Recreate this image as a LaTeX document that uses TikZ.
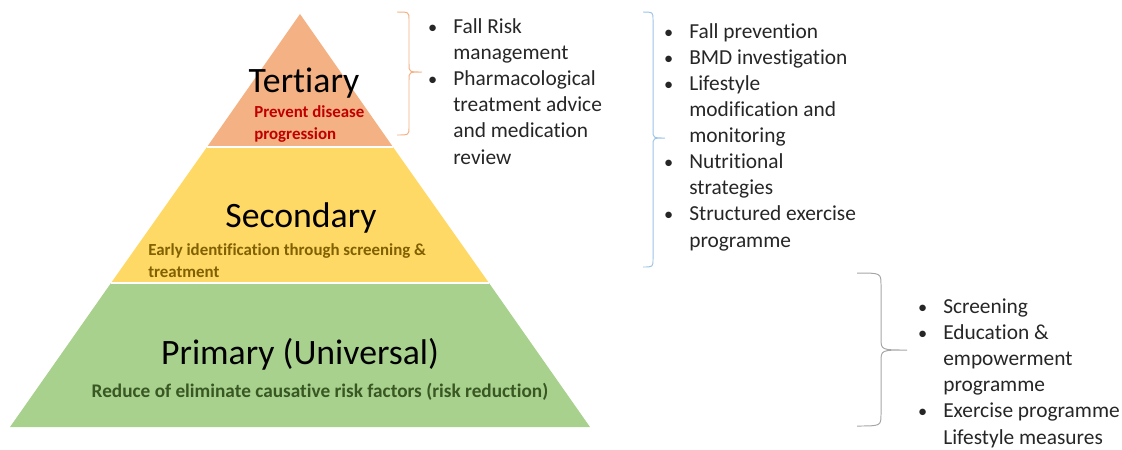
\documentclass[tikz,border=0pt]{standalone}
\usepackage{fontspec}
\setmainfont{Carlito}[Ligatures=NoCommon]
\usetikzlibrary{positioning}

\definecolor{tertfill}{HTML}{F4B183}
\definecolor{secfill}{HTML}{FFD966}
\definecolor{primfill}{HTML}{A9D18E}
\definecolor{tertred}{HTML}{C00000}
\definecolor{secbrown}{HTML}{806000}
\definecolor{primgreen}{HTML}{385723}
\definecolor{braceorange}{HTML}{F4B183}
\definecolor{braceblue}{HTML}{9DC3E6}
\definecolor{bracegray}{HTML}{A6A6A6}
\definecolor{listtext}{HTML}{262626}

% bullet and hanging indent for the lists
\newcommand{\bul}{\makebox[0.575cm][l]{\hspace{-1.5pt}\raisebox{0.3pt}{\fontsize{13}{13}\selectfont\textbullet}}}
\newcommand{\ind}{\hspace*{0.575cm}}

% curly bracket: colour, x hooks, x spine, x tip, y top, y tip, y bottom, hook
\newcommand{\curly}[8]{%
  \draw[#1, line width=0.7pt] (#2,#5) .. controls (#3,#5) .. (#3,#5+#8)
    -- (#3,#6-#8) .. controls (#3,#6) .. (#4,#6)
    .. controls (#3,#6) .. (#3,#6+#8)
    -- (#3,#7-#8) .. controls (#3,#7) .. (#2,#7);}

% anchors are on the baseline of the last line of each block
\tikzset{
  title/.style={font=\fontsize{25.4}{30}\selectfont, inner sep=0pt, anchor=base},
  tag/.style={font=\fontsize{12}{15}\selectfont\bfseries, align=left, inner sep=0pt},
  items/.style={font=\fontsize{15.2}{18.5}\selectfont, text=listtext, align=left, inner sep=0pt, anchor=base west},
}

\begin{document}
\begin{tikzpicture}[x=0.025cm, y=-0.025cm]
\useasboundingbox (0,0) rectangle (1122,449);

% pyramid corners
\coordinate (apex) at (300,14);
\coordinate (tl) at (207,147);
\coordinate (tr) at (393,147);
\coordinate (sl) at (111,283);
\coordinate (sr) at (489,283);
\coordinate (bl) at (10,427);
\coordinate (br) at (590,427);

\fill[primfill] (sl) -- (sr) -- (br) -- (bl) -- cycle;
\fill[secfill] (tl) -- (tr) -- (sr) -- (sl) -- cycle;
\fill[tertfill] (apex) -- (tr) -- (tl) -- cycle;
\draw[white, line width=0.8pt] (tl) -- (tr) (sl) -- (sr);

% levels
\node[title] (tert) at (304,92) {Tertiary};
\node[tag, text=tertred, anchor=base west] (tertsub) at (254,139) {Prevent disease\\progression};
\node[title] (sec) at (301,227) {Secondary};
\node[tag, text=secbrown, anchor=base west] (secsub) at (148,277)
  {Early identification through screening \&\\treatment};
\node[title] (prim) at (300,364) {Primary (Universal)};
\node[tag, text=primgreen, anchor=base, font=\fontsize{13.7}{16}\selectfont\bfseries] (primsub) at (320,397)
  {Reduce of eliminate causative risk factors (risk reduction)};

% brackets
\curly{braceorange}{397}{409}{422}{12}{72}{135}{8}
\curly{braceblue}{643}{653}{665}{12}{138}{267}{8}
\curly{bracegray}{857}{881}{907}{273}{350}{426}{12}

% interventions
\node[items] (tertlist) at (430,164) {\bul Fall Risk\\
  \ind management\\
  \bul Pharmacological\\
  \ind treatment advice\\
  \ind and medication\\
  \ind review};
\node[items] (seclist) at (666,247) {\bul Fall prevention\\
  \bul BMD investigation\\
  \bul Lifestyle\\
  \ind modification and\\
  \ind monitoring\\
  \bul Nutritional\\
  \ind strategies\\
  \bul Structured exercise\\
  \ind programme};
\node[items] (primlist) at (920,444) {\bul Screening\\
  \bul Education \&\\
  \ind empowerment\\
  \ind programme\\
  \bul Exercise programme\\
  \ind Lifestyle measures};
\end{tikzpicture}
\end{document}
